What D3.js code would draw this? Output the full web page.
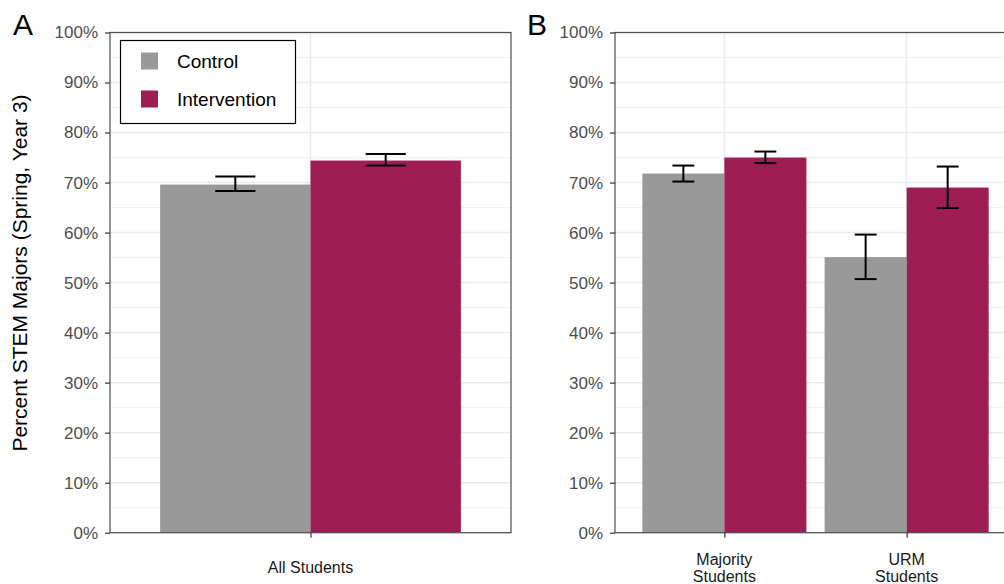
<!DOCTYPE html>
<html><head><meta charset="utf-8">
<script src="https://cdn.jsdelivr.net/npm/d3@7"></script>
<style>body{margin:0;background:#fff;overflow:hidden}svg{display:block;font-family:"Liberation Sans",Arial,Helvetica,sans-serif}</style>
</head><body><svg id="c" width="1004" height="584"></svg>
<script>
// ---- data ----
const groups = ["Control", "Intervention"];
const colors = ["#999999", "#9F1D55"];
const catsA = ["All Students"];
const meanA = [[69.6], [74.4]];          // [group][category]
const lowA  = [[68.3], [73.4]];
const highA = [[71.2], [75.7]];
const catsB = [["Majority", "Students"], ["URM", "Students"]];
const meanB = [[71.8, 55.1], [75.0, 69.0]];
const lowB  = [[70.2, 50.7], [73.9, 64.9]];
const highB = [[73.4, 59.6], [76.2, 73.2]];
const yTicks = [0, 10, 20, 30, 40, 50, 60, 70, 80, 90, 100];
const yMinor = [5, 15, 25, 35, 45, 55, 65, 75, 85, 95];

const svg = d3.select("#c");
const plotTop = 32.5, plotBottom = 532.7;
const y = d3.scaleLinear().domain([0, 100]).range([plotBottom, plotTop]);

function panel(x0, x1, cats, mean, low, high, letter, letterX) {
  const g = svg.append("g");
  const labels = cats.map(c => Array.isArray(c) ? c.join("\n") : c);
  const x = d3.scalePoint().domain(labels).range([x0, x1]).padding(0.6);
  const step = x.step();
  // grid
  g.selectAll(".mi").data(yMinor).join("line")
    .attr("x1", x0).attr("x2", x1).attr("y1", d => y(d)).attr("y2", d => y(d))
    .attr("stroke", "#EBEBEB").attr("stroke-width", 0.7);
  g.selectAll(".ma").data(yTicks).join("line")
    .attr("x1", x0).attr("x2", x1).attr("y1", d => y(d)).attr("y2", d => y(d))
    .attr("stroke", "#EBEBEB").attr("stroke-width", 1.5);
  g.selectAll(".vx").data(labels).join("line")
    .attr("x1", d => x(d)).attr("x2", d => x(d)).attr("y1", plotTop).attr("y2", plotBottom)
    .attr("stroke", "#EBEBEB").attr("stroke-width", 1.5);
  // bars
  const bw = 0.45 * step;
  groups.forEach((grp, gi) => {
    const off = (gi === 0 ? -0.225 : 0.225) * step;
    g.selectAll(".b" + gi).data(labels).join("rect")
      .attr("x", d => x(d) + off - bw / 2).attr("width", bw)
      .attr("y", (d, i) => y(mean[gi][i])).attr("height", (d, i) => y(0) - y(mean[gi][i]))
      .attr("fill", colors[gi]);
  });
  // error bars
  const ew = 0.12 * step;
  groups.forEach((grp, gi) => {
    const off = (gi === 0 ? -0.225 : 0.225) * step;
    labels.forEach((d, i) => {
      const cx = x(d) + off;
      const e = g.append("g").attr("stroke", "#000").attr("stroke-width", 2);
      e.append("line").attr("x1", cx).attr("x2", cx).attr("y1", y(low[gi][i])).attr("y2", y(high[gi][i]));
      e.append("line").attr("x1", cx - ew / 2).attr("x2", cx + ew / 2).attr("y1", y(low[gi][i])).attr("y2", y(low[gi][i]));
      e.append("line").attr("x1", cx - ew / 2).attr("x2", cx + ew / 2).attr("y1", y(high[gi][i])).attr("y2", y(high[gi][i]));
    });
  });
  // border
  g.append("rect").attr("x", x0).attr("y", plotTop).attr("width", x1 - x0).attr("height", plotBottom - plotTop)
    .attr("fill", "none").attr("stroke", "#4D4D4D").attr("stroke-width", 1.2);
  // y axis
  const ya = d3.axisLeft(y).tickValues(yTicks).tickFormat(d => d + "%").tickSize(5).tickPadding(7);
  const yg = g.append("g").attr("transform", `translate(${x0},0)`).call(ya);
  yg.select(".domain").remove();
  yg.selectAll(".tick line").attr("stroke", "#333").attr("stroke-width", 1.2);
  yg.selectAll(".tick text").attr("fill", "#4D4D4D").style("font-size", "17px")
    .style("font-family", '"Liberation Sans",Arial,sans-serif');
  // x axis
  const xa = d3.axisBottom(x).tickSize(5).tickFormat("");
  const xg = g.append("g").attr("transform", `translate(0,${plotBottom})`).call(xa);
  xg.select(".domain").remove();
  xg.selectAll(".tick line").attr("stroke", "#333").attr("stroke-width", 1.2);
  labels.forEach(d => {
    const lines = d.split("\n");
    const t = g.append("text").attr("x", x(d)).attr("text-anchor", "middle")
      .attr("fill", "#1a1a1a").style("font-size", "16px");
    const y0 = lines.length === 1 ? 572.5 : 565;
    lines.forEach((ln, k) => t.append("tspan").attr("x", x(d)).attr("y", y0 + k * 16.8).text(ln));
  });
  // panel letter
  svg.append("text").attr("x", letterX).attr("y", 35).text(letter)
    .style("font-size", "30px").attr("fill", "#000");
  return x;
}

panel(110, 511, catsA, meanA, lowA, highA, "A", 13);
panel(615, 1016, catsB, meanB, lowB, highB, "B", 527);

// y title
svg.append("text").attr("transform", "translate(27,273) rotate(-90)").attr("text-anchor", "middle")
  .style("font-size", "21px").attr("fill", "#000").text("Percent STEM Majors (Spring, Year 3)");

// legend
const lg = svg.append("g");
lg.append("rect").attr("x", 120.5).attr("y", 40.5).attr("width", 175).attr("height", 83)
  .attr("fill", "#fff").attr("stroke", "#000").attr("stroke-width", 1.2);
groups.forEach((grp, i) => {
  const cy = 61 + i * 38;
  lg.append("rect").attr("x", 141).attr("y", cy - 8.5).attr("width", 17).attr("height", 17).attr("fill", colors[i]);
  lg.append("text").attr("x", 177).attr("y", cy + 7).style("font-size", "19px").attr("fill", "#000").text(grp);
});
</script></body></html>
